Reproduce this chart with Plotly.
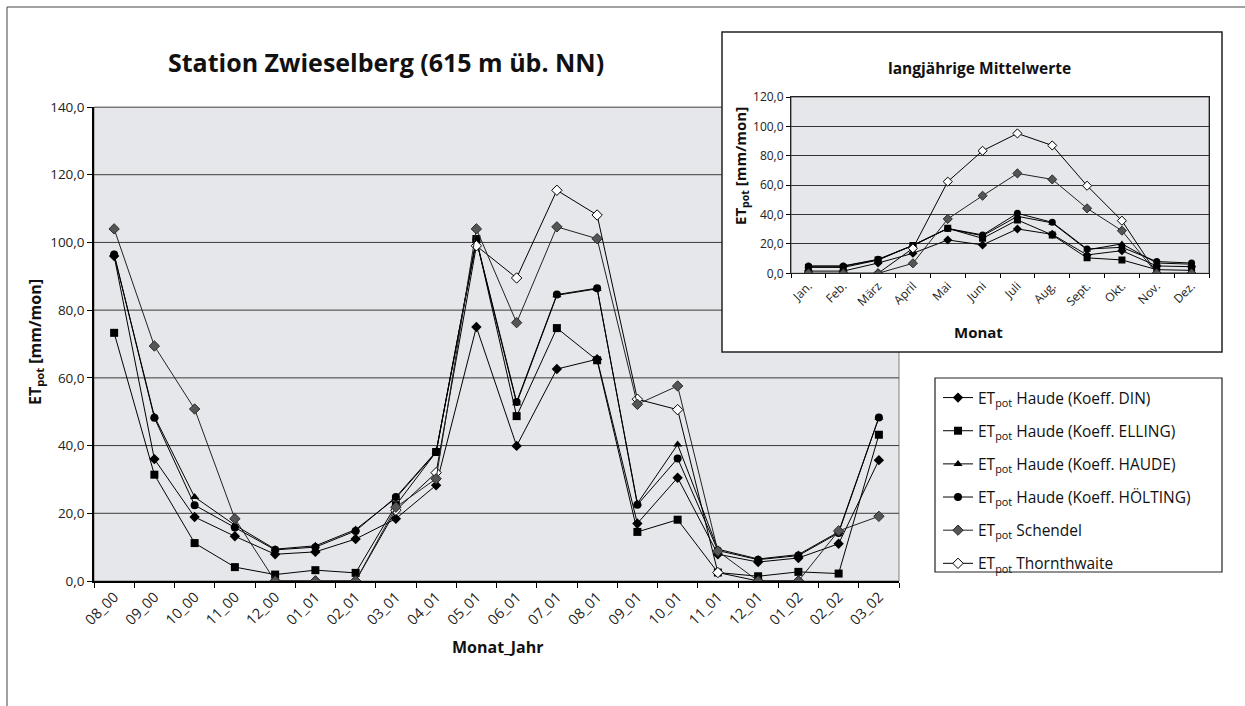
import plotly.graph_objects as go

W, H = 1245, 706

# ---------------- data: main chart ----------------
months_main = ["08_00", "09_00", "10_00", "11_00", "12_00", "01_01", "02_01", "03_01",
               "04_01", "05_01", "06_01", "07_01", "08_01", "09_01", "10_01", "11_01",
               "12_01", "01_02", "02_02", "03_02"]
din = [96.0, 36.0, 18.9, 13.2, 7.9, 8.6, 12.4, 18.4, 28.3, 75.0, 39.9, 62.6, 65.5, 17.0, 30.5, 7.9, 5.6, 6.8, 11.0, 35.7]
elling = [73.3, 31.4, 11.2, 4.1, 1.9, 3.2, 2.4, 22.4, 38.1, 101.0, 48.7, 74.7, 65.2, 14.5, 18.1, 2.5, 1.4, 2.7, 2.2, 43.2]
haude = [96.4, 48.6, 24.8, 16.5, 9.4, 10.4, 15.2, 24.5, 38.0, 100.5, 52.5, 84.4, 86.3, 22.9, 40.3, 9.4, 6.5, 7.8, 14.5, 48.3]
hoelting = [96.4, 48.2, 22.4, 15.8, 9.2, 10.0, 14.8, 24.8, 38.2, 100.8, 52.9, 84.6, 86.5, 22.5, 36.2, 9.0, 6.3, 7.5, 14.2, 48.3]
schendel = [104.0, 69.4, 50.8, 18.4, 0.0, 0.0, 0.0, 21.8, 30.2, 104.0, 76.3, 104.6, 101.1, 52.2, 57.6, 8.8, 0.0, 0.0, 14.8, 19.1]
thornth = [None, None, None, None, 0.0, 0.0, 0.0, 20.9, 32.0, 99.0, 89.5, 115.4, 108.1, 53.7, 50.6, 2.5, 0.0, 0.0, None, None]

# ---------------- data: inset (long-term means) ----------------
months_inset = ["Jan.", "Feb.", "März", "April", "Mai", "Juni", "Juli", "Aug.", "Sept.", "Okt.", "Nov.", "Dez."]
i_din = [1.5, 1.5, 7.0, 13.6, 22.7, 19.3, 30.2, 26.5, 12.5, 15.4, 5.0, 4.5]
i_elling = [4.0, 4.0, 9.0, 19.0, 30.6, 23.8, 36.3, 26.1, 10.5, 9.1, 2.5, 2.0]
i_haude = [4.8, 4.8, 9.3, 19.0, 30.4, 25.5, 38.8, 34.3, 16.0, 20.0, 7.0, 6.2]
i_hoelting = [5.0, 5.0, 9.5, 19.0, 30.5, 26.1, 40.8, 34.7, 16.5, 17.7, 8.0, 7.0]
i_schendel = [0.0, 0.0, 0.0, 6.8, 37.0, 52.8, 68.0, 63.9, 44.2, 29.0, 0.0, 0.0]
i_thornth = [0.0, 0.0, 0.0, 17.0, 62.4, 83.4, 95.2, 87.0, 59.6, 35.8, 0.0, 0.0]

names = ["ET<sub>pot</sub> Haude (Koeff. DIN)",
         "ET<sub>pot</sub> Haude (Koeff. ELLING)",
         "ET<sub>pot</sub> Haude (Koeff. HAUDE)",
         "ET<sub>pot</sub> Haude (Koeff. HÖLTING)",
         "ET<sub>pot</sub> Schendel",
         "ET<sub>pot</sub> Thornthwaite"]

FONT = "Open Sans"


def px(x):
    return x / W


def py(y):
    return 1 - y / H


main_xd = [px(94), px(899)]
main_yd = [py(581), py(107)]
ins_xd = [px(791), px(1209)]
ins_yd = [py(273.3), py(97)]

styles = [
    dict(symbol="diamond", size=8, color="black", line=dict(color="black", width=0)),
    dict(symbol="square", size=8, color="black", line=dict(color="black", width=0)),
    dict(symbol="triangle-up", size=8, color="black", line=dict(color="black", width=0)),
    dict(symbol="circle", size=8, color="black", line=dict(color="black", width=0)),
    dict(symbol="diamond", size=8, color="#555555", line=dict(color="#2a2a2a", width=1)),
    dict(symbol="diamond", size=8, color="white", line=dict(color="black", width=1)),
]

main_series = [din, elling, haude, hoelting, schendel, thornth]
inset_series = [i_din, i_elling, i_haude, i_hoelting, i_schendel, i_thornth]
# drawing order: Thornthwaite before Schendel (its zero values lie under Schendel)
draw_order = [0, 1, 2, 3, 5, 4]

fig = go.Figure()
for k in draw_order:
    fig.add_trace(go.Scatter(
        x=months_main, y=main_series[k], name=names[k], mode="lines+markers",
        line=dict(color="#222222" if k == 4 else "black", width=1),
        marker=styles[k], legendrank=k + 1, legendgroup=str(k),
        xaxis="x", yaxis="y", connectgaps=False))
for k in draw_order:
    st = dict(styles[k])
    st["size"] = st["size"] - 1
    fig.add_trace(go.Scatter(
        x=months_inset, y=inset_series[k], name=names[k], mode="lines+markers",
        line=dict(color="#222222" if k == 4 else "black", width=1),
        marker=st, showlegend=False, xaxis="x2", yaxis="y2"))

shapes = []
# outer chart frame (left and top edges visible)
shapes.append(dict(type="line", xref="paper", yref="paper", x0=px(7), x1=px(1245), y0=py(7), y1=py(7),
                   line=dict(color="#444", width=1), layer="below"))
shapes.append(dict(type="line", xref="paper", yref="paper", x0=px(7), x1=px(7), y0=py(7), y1=py(706),
                   line=dict(color="#444", width=1), layer="below"))
# main plot background
shapes.append(dict(type="rect", xref="paper", yref="paper", x0=main_xd[0], x1=main_xd[1],
                   y0=main_yd[0], y1=main_yd[1], fillcolor="#e6e7ea",
                   line=dict(color="#808080", width=1), layer="below"))
# main gridlines
for v in range(20, 141, 20):
    shapes.append(dict(type="line", xref="paper", yref="y", x0=main_xd[0], x1=main_xd[1], y0=v, y1=v,
                       line=dict(color="#3a3a3a", width=1), layer="below"))
# inset box
shapes.append(dict(type="rect", xref="paper", yref="paper", x0=px(722), x1=px(1222), y0=py(352), y1=py(32),
                   fillcolor="white", line=dict(color="#222", width=1.5), layer="below"))
shapes.append(dict(type="rect", xref="paper", yref="paper", x0=ins_xd[0], x1=ins_xd[1], y0=ins_yd[0], y1=ins_yd[1],
                   fillcolor="#e6e7ea", line=dict(color="#555", width=1), layer="below"))
# legend box
shapes.append(dict(type="rect", xref="paper", yref="paper", x0=px(935), x1=px(1222), y0=py(572), y1=py(378),
                   fillcolor="white", line=dict(color="#222", width=1.2), layer="below"))

annotations = [
    dict(text="<b>Station Zwieselberg (615 m üb. NN)</b>", x=px(386), y=py(62), xref="paper", yref="paper",
         showarrow=False, font=dict(size=25, color="#111"), xanchor="center", yanchor="middle"),
    dict(text="<b>langjährige Mittelwerte</b>", x=px(979), y=py(68), xref="paper", yref="paper",
         showarrow=False, font=dict(size=15.5, color="#111"), xanchor="center", yanchor="middle"),
    dict(text="<b>ET<sub>pot</sub> [mm/mon]</b>", x=px(35), y=py(342), xref="paper", yref="paper",
         showarrow=False, textangle=-90, font=dict(size=16, color="#111"), xanchor="center", yanchor="middle"),
    dict(text="<b>Monat_Jahr</b>", x=px(497), y=py(647), xref="paper", yref="paper",
         showarrow=False, font=dict(size=16, color="#111"), xanchor="center", yanchor="middle"),
    dict(text="<b>ET<sub>pot</sub> [mm/mon]</b>", x=px(741), y=py(166), xref="paper", yref="paper",
         showarrow=False, textangle=-90, font=dict(size=15, color="#111"), xanchor="center", yanchor="middle"),
    dict(text="<b>Monat</b>", x=px(978), y=py(332), xref="paper", yref="paper",
         showarrow=False, font=dict(size=15, color="#111"), xanchor="center", yanchor="middle"),
]

fig.update_layout(
    width=W, height=H, margin=dict(l=0, r=0, t=0, b=0, pad=0), autosize=False,
    paper_bgcolor="white", plot_bgcolor="rgba(0,0,0,0)",
    font=dict(family=FONT, color="#222"),
    separators=",.",
    shapes=shapes, annotations=annotations,
    showlegend=True,
    legend=dict(x=px(938), y=py(381), xanchor="left", yanchor="top",
                bgcolor="rgba(0,0,0,0)", borderwidth=0,
                font=dict(size=15.5, color="#111"), tracegroupgap=10, itemwidth=30),
    xaxis=dict(domain=main_xd, anchor="y", type="category", categoryorder="array", categoryarray=months_main,
               range=[-0.5, 19.5], tickangle=-45, ticks="outside", tickson="boundaries", ticklen=5,
               tickcolor="black", showline=True, linecolor="black", linewidth=1.5, showgrid=False,
               automargin=False, tickfont=dict(size=14.5, color="#222")),
    yaxis=dict(domain=main_yd, anchor="x", range=[0, 140], dtick=20, tickformat=".1f", ticks="outside",
               ticklen=5, tickcolor="black", showline=True, linecolor="black", linewidth=1.5,
               showgrid=False, zeroline=False, automargin=False, tickfont=dict(size=13.5, color="#222")),
    xaxis2=dict(domain=ins_xd, anchor="y2", type="category", categoryorder="array", categoryarray=months_inset,
                range=[-0.5, 11.5], tickangle=-45, ticks="outside", tickson="boundaries", ticklen=4,
                tickcolor="black", showline=True, linecolor="#222", mirror=True, showgrid=False,
                automargin=False, tickfont=dict(size=12, color="#222")),
    yaxis2=dict(domain=ins_yd, anchor="x2", range=[0, 120], dtick=20, tickformat=".1f", ticks="outside",
                ticklen=4, tickcolor="black", showline=True, linecolor="#222", mirror=True,
                showgrid=True, gridcolor="#333", gridwidth=1, zeroline=False, automargin=False,
                tickfont=dict(size=12, color="#222")),
)

fig.write_html("out.html", config={"displayModeBar": False},
               post_script="document.body.style.margin='0';document.body.style.overflow='hidden';")
